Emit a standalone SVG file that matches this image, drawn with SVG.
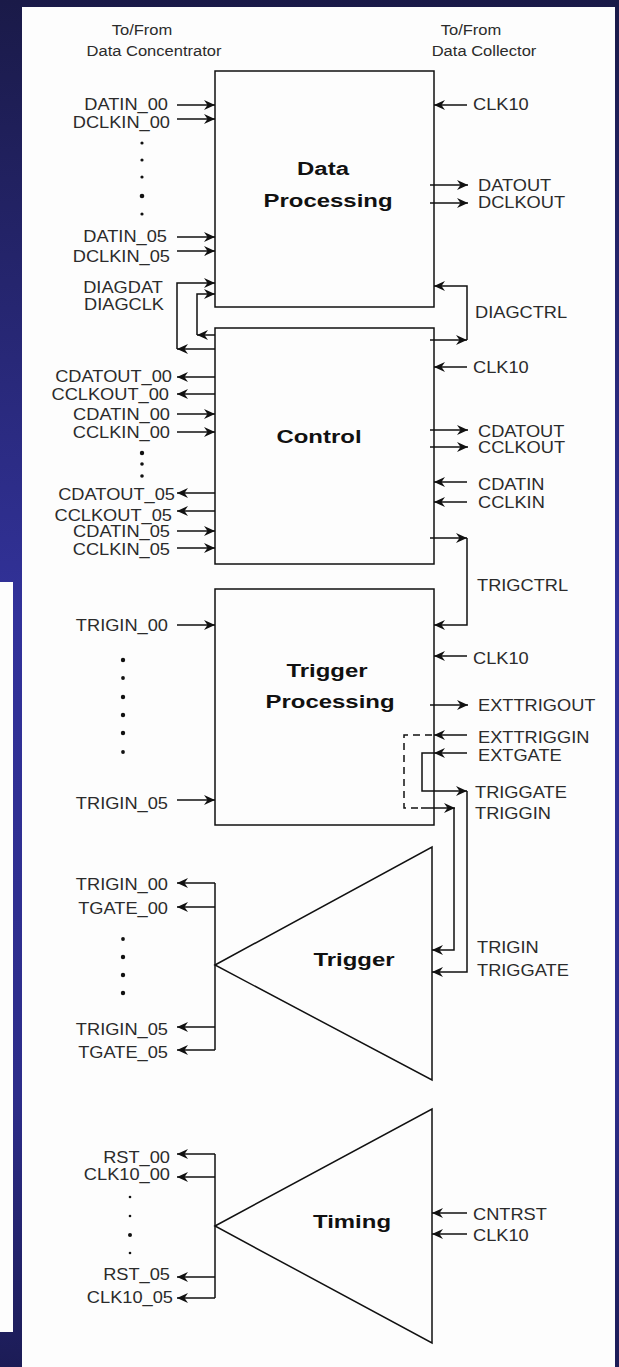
<svg xmlns="http://www.w3.org/2000/svg" width="619" height="1367" viewBox="0 0 619 1367">
<defs>
<linearGradient id="bg" x1="0" y1="0" x2="0" y2="1">
<stop offset="0" stop-color="#1a1a48"/>
<stop offset="0.45" stop-color="#32329a"/>
<stop offset="0.8" stop-color="#2d2d8a"/>
<stop offset="1" stop-color="#1c1c56"/>
</linearGradient>
<marker id="ah" markerUnits="userSpaceOnUse" markerWidth="12" markerHeight="11" refX="11" refY="5" orient="auto">
<path d="M0,0 L11,5 L0,10 L3.5,5 Z" fill="#111"/>
</marker>
</defs>
<style>
.ln{fill:none;stroke:#111;stroke-width:1.5}
.ar{fill:none;stroke:#111;stroke-width:1.5;marker-end:url(#ah)}
.dash{fill:none;stroke:#111;stroke-width:1.5;stroke-dasharray:7 5}
.box{fill:none;stroke:#111;stroke-width:1.5}
.lb{font-family:"Liberation Sans",Arial,sans-serif;font-size:16px;fill:#2b2b2b}
.hd{font-family:"Liberation Sans",Arial,sans-serif;font-size:14.5px;fill:#2b2b2b;text-anchor:middle}
.e{text-anchor:end}
.m{text-anchor:middle}
.t{font-family:"Liberation Sans",Arial,sans-serif;font-size:19px;font-weight:bold;fill:#111;text-anchor:middle}
.dot{fill:#111}
</style>
<rect x="0" y="0" width="619" height="1367" fill="url(#bg)"/>
<rect x="22" y="7" width="593" height="1360" fill="#fdfdfd"/>
<rect x="0" y="582" width="13" height="750" fill="#fdfdfd"/>

<g id="headers">
<text class="hd" transform="translate(142 35) scale(1.14 1)">To/From</text>
<text class="hd" transform="translate(154 56) scale(1.14 1)">Data Concentrator</text>
<text class="hd" transform="translate(471 35) scale(1.14 1)">To/From</text>
<text class="hd" transform="translate(484 56) scale(1.14 1)">Data Collector</text>
</g>

<g id="data-processing">
<rect class="box" x="215" y="71" width="219" height="236"/>
<text class="t" transform="translate(323 175) scale(1.26 1)">Data</text>
<text class="t" transform="translate(328 207) scale(1.26 1)">Processing</text>
<text class="lb e" transform="translate(168 110) scale(1.14 1)">DATIN_00</text>
<text class="lb e" transform="translate(170 128) scale(1.14 1)">DCLKIN_00</text>
<circle class="dot" cx="142" cy="143" r="1.6"/>
<circle class="dot" cx="142" cy="160" r="1.6"/>
<circle class="dot" cx="142" cy="177" r="1.6"/>
<circle class="dot" cx="142" cy="196" r="2.3"/>
<circle class="dot" cx="142" cy="214" r="1.6"/>
<text class="lb e" transform="translate(167 242) scale(1.14 1)">DATIN_05</text>
<text class="lb e" transform="translate(170 262) scale(1.14 1)">DCLKIN_05</text>
<text class="lb m" transform="translate(123 293) scale(1.14 1)">DIAGDAT</text>
<text class="lb m" transform="translate(124 310) scale(1.14 1)">DIAGCLK</text>
<text class="lb" transform="translate(473 110) scale(1.14 1)">CLK10</text>
<text class="lb" transform="translate(478 191) scale(1.14 1)">DATOUT</text>
<text class="lb" transform="translate(478 208) scale(1.14 1)">DCLKOUT</text>
<text class="lb" transform="translate(475 318) scale(1.14 1)">DIAGCTRL</text>
</g>

<g id="control">
<rect class="box" x="215" y="328" width="219" height="236"/>
<text class="t" transform="translate(319 443) scale(1.26 1)">Control</text>
<text class="lb e" transform="translate(172 382) scale(1.14 1)">CDATOUT_00</text>
<text class="lb e" transform="translate(169 400) scale(1.14 1)">CCLKOUT_00</text>
<text class="lb e" transform="translate(170 420) scale(1.14 1)">CDATIN_00</text>
<text class="lb e" transform="translate(170 438) scale(1.14 1)">CCLKIN_00</text>
<circle class="dot" cx="142" cy="453" r="2.2"/>
<circle class="dot" cx="142" cy="464" r="1.8"/>
<circle class="dot" cx="142" cy="476" r="1.8"/>
<text class="lb e" transform="translate(175 500) scale(1.14 1)">CDATOUT_05</text>
<text class="lb e" transform="translate(172 521) scale(1.14 1)">CCLKOUT_05</text>
<text class="lb e" transform="translate(170 537) scale(1.14 1)">CDATIN_05</text>
<text class="lb e" transform="translate(170 555) scale(1.14 1)">CCLKIN_05</text>
<text class="lb" transform="translate(473 373) scale(1.14 1)">CLK10</text>
<text class="lb" transform="translate(478 437) scale(1.14 1)">CDATOUT</text>
<text class="lb" transform="translate(478 453) scale(1.14 1)">CCLKOUT</text>
<text class="lb" transform="translate(478 490) scale(1.14 1)">CDATIN</text>
<text class="lb" transform="translate(478 508) scale(1.14 1)">CCLKIN</text>
<text class="lb" transform="translate(477 591) scale(1.14 1)">TRIGCTRL</text>
</g>

<g id="trigger-processing">
<rect class="box" x="215" y="589" width="219" height="236"/>
<text class="t" transform="translate(327 677) scale(1.26 1)">Trigger</text>
<text class="t" transform="translate(330 708) scale(1.26 1)">Processing</text>
<text class="lb e" transform="translate(168 631) scale(1.14 1)">TRIGIN_00</text>
<circle class="dot" cx="123" cy="660" r="2.2"/>
<circle class="dot" cx="123" cy="678" r="1.9"/>
<circle class="dot" cx="123" cy="697" r="2.2"/>
<circle class="dot" cx="123" cy="715" r="2.2"/>
<circle class="dot" cx="123" cy="733" r="2.2"/>
<circle class="dot" cx="123" cy="752" r="1.9"/>
<text class="lb e" transform="translate(168 809) scale(1.14 1)">TRIGIN_05</text>
<text class="lb" transform="translate(473 664) scale(1.14 1)">CLK10</text>
<text class="lb" transform="translate(478 711) scale(1.14 1)">EXTTRIGOUT</text>
<text class="lb" transform="translate(478 743) scale(1.14 1)">EXTTRIGGIN</text>
<text class="lb" transform="translate(478 761) scale(1.14 1)">EXTGATE</text>
<text class="lb" transform="translate(475 798) scale(1.14 1)">TRIGGATE</text>
<text class="lb" transform="translate(475 819) scale(1.14 1)">TRIGGIN</text>
</g>

<g id="trigger">
<polygon class="box" points="215,965 432,847 432,1080"/>
<text class="t" transform="translate(354 966) scale(1.26 1)">Trigger</text>
<text class="lb e" transform="translate(168 890) scale(1.14 1)">TRIGIN_00</text>
<text class="lb e" transform="translate(168 914) scale(1.14 1)">TGATE_00</text>
<circle class="dot" cx="123" cy="939" r="1.9"/>
<circle class="dot" cx="123" cy="957" r="2.2"/>
<circle class="dot" cx="123" cy="975" r="2.2"/>
<circle class="dot" cx="123" cy="993" r="2.2"/>
<text class="lb e" transform="translate(168 1035) scale(1.14 1)">TRIGIN_05</text>
<text class="lb e" transform="translate(168 1058) scale(1.14 1)">TGATE_05</text>
<text class="lb" transform="translate(477 953) scale(1.14 1)">TRIGIN</text>
<text class="lb" transform="translate(477 976) scale(1.14 1)">TRIGGATE</text>
</g>

<g id="timing">
<polygon class="box" points="215,1226 432,1109 432,1343"/>
<text class="t" transform="translate(352 1228) scale(1.26 1)">Timing</text>
<text class="lb e" transform="translate(170 1163) scale(1.14 1)">RST_00</text>
<text class="lb e" transform="translate(170 1180) scale(1.14 1)">CLK10_00</text>
<circle class="dot" cx="130" cy="1197" r="1.3"/>
<circle class="dot" cx="130" cy="1216" r="1.3"/>
<circle class="dot" cx="130" cy="1235" r="2"/>
<circle class="dot" cx="130" cy="1253" r="1.3"/>
<text class="lb e" transform="translate(170 1280) scale(1.14 1)">RST_05</text>
<text class="lb e" transform="translate(173 1303) scale(1.14 1)">CLK10_05</text>
<text class="lb" transform="translate(473 1220) scale(1.14 1)">CNTRST</text>
<text class="lb" transform="translate(473 1241) scale(1.14 1)">CLK10</text>
</g>

<g id="connectors">
<path class="ar" d="M177 105 H215"/>
<path class="ar" d="M177 119 H215"/>
<path class="ar" d="M177 237 H215"/>
<path class="ar" d="M177 251 H215"/>
<path class="ar" d="M467 105 H434"/>
<path class="ar" d="M430 185 H468"/>
<path class="ar" d="M430 203 H468"/>
<path class="ar" d="M430 340 H467"/>
<path class="ar" d="M467 340 V286 H434"/>
<path class="ar" d="M215 349 H177"/>
<path class="ar" d="M177 349 V283 H215"/>
<path class="ar" d="M215 335 H197"/>
<path class="ar" d="M197 335 V294 H215"/>
<path class="ar" d="M215 377 H177"/>
<path class="ar" d="M215 394 H177"/>
<path class="ar" d="M177 414 H215"/>
<path class="ar" d="M177 432 H215"/>
<path class="ar" d="M215 493 H177"/>
<path class="ar" d="M215 511 H177"/>
<path class="ar" d="M177 531 H215"/>
<path class="ar" d="M177 548 H215"/>
<path class="ar" d="M467 367 H434"/>
<path class="ar" d="M430 430 H468"/>
<path class="ar" d="M430 447 H468"/>
<path class="ar" d="M467 482 H434"/>
<path class="ar" d="M467 502 H434"/>
<path class="ar" d="M430 538 H467"/>
<path class="ar" d="M467 538 V625 H434"/>
<path class="ar" d="M177 625 H215"/>
<path class="ar" d="M177 800 H215"/>
<path class="ar" d="M467 656 H434"/>
<path class="ar" d="M430 705 H468"/>
<path class="ar" d="M467 735 H434"/>
<path class="ar" d="M467 753 H434"/>
<path class="ar" d="M434 753 H422 V791 H467"/>
<path class="dash" d="M432 735 H404 V808 H421"/>
<path class="ar" d="M421 808 H455"/>
<path class="ar" d="M454 808 V950 H432"/>
<path class="ar" d="M467 791 V972 H432"/>
<path class="ln" d="M215 883 V1050"/>
<path class="ar" d="M215 883 H177"/>
<path class="ar" d="M215 907 H177"/>
<path class="ar" d="M215 1027 H177"/>
<path class="ar" d="M215 1050 H177"/>
<path class="ln" d="M215 1154 V1298"/>
<path class="ar" d="M215 1154 H177"/>
<path class="ar" d="M215 1177 H177"/>
<path class="ar" d="M215 1277 H177"/>
<path class="ar" d="M215 1298 H177"/>
<path class="ar" d="M467 1213 H432"/>
<path class="ar" d="M467 1234 H432"/>
</g>
</svg>
